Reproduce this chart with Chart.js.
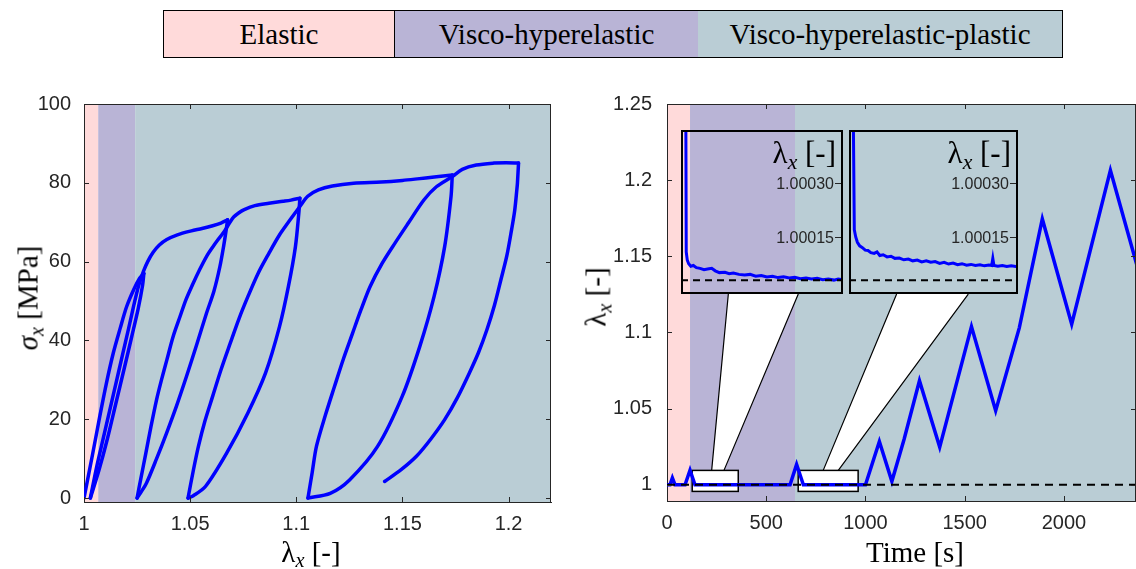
<!DOCTYPE html>
<html><head><meta charset="utf-8">
<script src="https://cdn.jsdelivr.net/npm/chart.js@4.4.0/dist/chart.umd.min.js"></script>
<style>
html,body{margin:0;padding:0;background:#fff;}
body{position:relative;width:1136px;height:569px;overflow:hidden;}
canvas{position:absolute;display:block;}
.band{position:absolute;left:163px;top:10px;width:900px;height:48px;box-sizing:border-box;border:1px solid #000;display:flex;font-family:'Liberation Serif',serif;font-size:29px;color:#000;}
.band div{height:100%;display:flex;align-items:center;justify-content:center;box-sizing:border-box;}
.lbl{position:absolute;font-family:'Liberation Serif',serif;color:#000;white-space:nowrap;line-height:1;transform:translate(-50%,-50%);}
.rot{transform:translate(-50%,-50%) rotate(-90deg);}
.lbl sub{font-size:0.7em;vertical-align:-0.28em;line-height:0;font-style:italic;}
.ititle{position:absolute;font-family:'Liberation Serif',serif;font-size:31px;color:#000;white-space:nowrap;line-height:1;text-align:right;}
.ititle sub{font-size:0.7em;vertical-align:-0.28em;line-height:0;font-style:italic;}
</style></head>
<body>
<div class="band" id="band"></div>
<canvas id="cL" width="560" height="569" style="left:0;top:0"></canvas>
<canvas id="cR" width="566" height="569" style="left:570px;top:0"></canvas>
<canvas id="cI1" style="left:0;top:0"></canvas>
<canvas id="cI2" style="left:0;top:0"></canvas>
<div class="lbl rot" style="left:28px;top:298px;font-size:29px"><i>σ</i><sub>x</sub> [MPa]</div>
<div class="lbl" style="left:311px;top:552px;font-size:29px">λ<sub>x</sub> [-]</div>
<div class="lbl rot" style="left:596px;top:297px;font-size:29px">λ<sub>x</sub> [-]</div>
<div class="lbl" style="left:915px;top:552px;font-size:29px">Time [s]</div>
<div class="ititle" id="t1">λ<sub>x</sub> [-]</div>
<div class="ititle" id="t2">λ<sub>x</sub> [-]</div>
<script>
// ---------- phases ----------
const phaseNames = ['Elastic', 'Visco-hyperelastic', 'Visco-hyperelastic-plastic'];
const phaseColors = ['#FFDADA', '#B9B4D6', '#BACDD5'];
const phaseStrainBounds = [1, 1.0067, 1.0241, 1.3];
const phaseTimeBounds = [0, 116, 645, 3000];

// ---------- left panel: stress vs stretch (one continuous path) ----------
const stretchPath = [
  1.000,1.0040,1.0075,1.0105,1.0138,1.0170,1.0201,1.0235,1.0262,1.0282,
  1.0276,1.0255,1.0225,1.019,1.015,1.011,1.007,1.003,
  1.006,1.009,1.012,1.015,1.018,1.021,1.0235,1.0258,1.028,1.030,1.0325,1.0355,1.039,1.044,1.0506,1.0556,1.0606,1.0645,1.0676,
  1.0671,1.0658,1.064,1.0612,1.0577,1.053,1.0483,1.0436,1.0389,1.0342,1.0295,1.0265,1.025,
  1.0268,1.029,1.0315,1.0342,1.0365,1.039,1.042,1.0452,1.048,1.051,1.0545,1.0577,1.0605,1.063,1.0652,1.0671,1.069,1.0705,1.073,1.0755,1.0805,1.0871,1.0938,1.0975,1.1017,
  1.1012,1.0996,1.0963,1.0921,1.0855,1.0772,1.0672,1.0573,1.0515,1.049,
  1.0515,1.0539,1.057,1.0606,1.0645,1.0689,1.073,1.0772,1.082,1.0871,1.092,1.0971,1.1017,1.1054,1.1104,1.117,1.127,1.140,1.150,1.157,1.165,1.1735,
  1.1729,1.1699,1.1649,1.1582,1.1499,1.1383,1.1251,1.116,1.1055,
  1.1075,1.1095,1.1137,1.118,1.1222,1.1265,1.1305,1.1348,1.1405,1.1465,1.1528,1.1602,1.166,1.1735,1.1782,1.1848,1.1931,1.1989,1.2047,
  1.2042,1.2039,1.2029,1.2014,1.1992,1.1964,1.1934,1.1898,1.1859,1.1815,1.1759,1.1699,1.1634,1.1566,1.1494,1.1416
];
const stressPath = [
  0,11,20.9,29,36.8,43,48.6,53,55.8,57,
  54,48,41,33,24,15,7,0,
  8,15,22,29,36,43,49,54,57.5,60,62.3,64.2,65.6,66.8,67.8,68.4,69.1,69.8,70.6,
  68.5,64,58.7,52.5,46.9,38.8,30.9,23.4,16.5,10,3.9,1.2,0,
  5,11,18,25,30,35,41,46,50.3,54,58,61.3,63.6,65.5,67,68.5,70.2,71.3,72.4,73.2,74.2,74.8,75.3,75.6,76.1,
  72.3,63.8,53.7,43.5,31.7,21.6,11.4,3,0.6,0,
  7,13.1,19.6,25.8,32.5,39.3,45.5,51.1,57,62.1,66.7,70.6,74,76.6,78.2,79.2,79.9,80.2,80.6,81.0,81.5,82,
  76.5,63.8,51.1,38.5,25.8,13.1,4.6,1.2,0,
  6.5,13.1,21,28.3,35.3,41.8,47.8,53.7,59.6,64.7,69.8,75.7,79,81.6,83.4,84.5,85,85.1,85,
  80,78.2,73,68,61.5,55.4,49,42.7,37,31.7,25.5,19.9,15,10.6,7.2,4.2
];
// indices where the path turns (load/unload reversals)
const reversalIdx = [0, 9, 17, 36, 49, 74, 84, 106, 115, 134, 150];
const stretchTicks = [1, 1.05, 1.1, 1.15, 1.2];
const stretchTickLabels = ['1', '1.05', '1.1', '1.15', '1.2'];
const stressTicks = [0, 20, 40, 60, 80, 100];
const stressTickLabels = ['0', '20', '40', '60', '80', '100'];

// ---------- right panel: stretch vs time ----------
const timeSeries = [0,15,27,40,91,116,141,620,653,687,1000,1070,1133,1195,1272,1374,1534,1656,1775,1891,2039,2234,2400];
const stretchSeries = [1,1,1.0045,1,1,1.0095,1,1,1.0133,1,1,1.0284,1.0022,1.0300,1.0683,1.0247,1.1038,1.0486,1.1030,1.1745,1.1054,1.2064,1.1289];
const refTime = [0, 2363];
const refStretch = [1, 1];
const timeTicks = [0, 500, 1000, 1500, 2000];
const timeTickLabels = ['0', '500', '1000', '1500', '2000'];
const stretchTicksR = [1, 1.05, 1.1, 1.15, 1.2, 1.25];
const stretchTickLabelsR = ['1', '1.05', '1.1', '1.15', '1.2', '1.25'];

// ---------- insets ----------
const inset1Time = [133.6,134.5,136,138,141,144.7,149,154.3,160,165,171,176,182,190,196,202,210,218,226,234,242,250,258,266,274,282,290,298,306,314,322,330,338,346,352,359];
const inset1Stretch = [1.0007,1.000108,1.000085,1.000075,1.000068,1.00007,1.000064,1.000062,1.000058,1.00006,1.000062,1.000055,1.00005,1.000051,1.000047,1.000049,1.000045,1.000043,1.000045,1.00004,1.000042,1.000038,1.00004,1.000036,1.000038,1.000035,1.000037,1.000033,1.000035,1.000032,1.000034,1.00003,1.000032,1.000029,1.000032,1.00003];
const inset2Time = [667.5,670.5,673,676,680,685,690,695,700,706,711,716,722,729,736,743,751,759,767,775,783,791,799,807,815,823,831,839,847,855,863,871,879,887,895,903,911,916,918,920,927,935,943,951,959,963];
const inset2Stretch = [1.0007,1.00017,1.00015,1.000135,1.000125,1.00012,1.000113,1.000112,1.000106,1.000104,1.000108,1.000098,1.0001,1.000094,1.000096,1.00009,1.000091,1.000086,1.000088,1.000083,1.000085,1.00008,1.000083,1.000079,1.000081,1.000076,1.000079,1.000074,1.000077,1.000072,1.000075,1.000071,1.000073,1.00007,1.000072,1.000069,1.000071,1.00007,1.00009,1.00007,1.000068,1.00007,1.000067,1.000069,1.000067,1.000068];
const insetRef = 1.0000284;
const insetTicks = [1.00015, 1.0003];
const insetTickLabels = ['1.00015', '1.00030'];

// ---------- layout (data-space annotations) ----------
const zoomBoxes = [{t0:127,t1:359,l0:0.9956,l1:1.0094},{t0:661,t1:963,l0:0.9956,l1:1.0094}];
const insetFrames = [{t0:70.5,t1:885,l0:1.1252,l1:1.2328},{t0:915,t1:1767,l0:1.1252,l1:1.2328}];
const cones = [{b0:225,b1:287,u0:309,u1:661.5},{b0:787,b1:863,u0:1157,u1:1518}];

const AX = '#262626';
const BLUE = '#0000FF';
const TICKFONT = {family:"'Liberation Sans', Arial, sans-serif", size:20};

// band
const band = document.getElementById('band');
const bandWidths = [231, 303, 364];
phaseNames.forEach((n,i)=>{
  const d = document.createElement('div');
  d.textContent = n; d.style.background = phaseColors[i]; d.style.width = bandWidths[i]+'px';
  if (i===0) d.style.borderRight = '1px solid #000';
  band.appendChild(d);
});

const phasePlugin = {
  id:'phases',
  beforeDraw(chart, args, o){
    const {ctx, chartArea:a, scales:{x}} = chart;
    ctx.save();
    for (let i=0;i<phaseColors.length;i++){
      const x0 = Math.max(a.left, x.getPixelForValue(o.bounds[i]));
      const x1 = Math.min(a.right, x.getPixelForValue(o.bounds[i+1]));
      if (x1<=x0) continue;
      ctx.fillStyle = phaseColors[i];
      ctx.fillRect(x0, a.top, x1-x0, a.bottom-a.top);
    }
    ctx.restore();
  },
  afterDatasetsDraw(chart){
    const {ctx, chartArea:a, scales:{x,y}} = chart;
    const L = 5;
    ctx.save();
    ctx.strokeStyle = AX; ctx.lineWidth = 1;
    ctx.beginPath();
    ctx.moveTo(a.left, a.top+0.5); ctx.lineTo(a.right, a.top+0.5);
    ctx.moveTo(a.right-0.5, a.top); ctx.lineTo(a.right-0.5, a.bottom);
    x.ticks.forEach(t=>{ const p=Math.round(x.getPixelForValue(t.value))+0.5;
      ctx.moveTo(p,a.bottom); ctx.lineTo(p,a.bottom-L); ctx.moveTo(p,a.top); ctx.lineTo(p,a.top+L); });
    y.ticks.forEach(t=>{ const p=Math.round(y.getPixelForValue(t.value))+0.5;
      ctx.moveTo(a.left,p); ctx.lineTo(a.left+L,p); ctx.moveTo(a.right,p); ctx.lineTo(a.right-L,p); });
    ctx.stroke();
    ctx.restore();
  }
};

const zoomPlugin = {
  id:'zoomMarks',
  beforeDatasetsDraw(chart){
    const {ctx, chartArea:a, scales:{x,y}} = chart;
    ctx.save();
    ctx.beginPath(); ctx.rect(a.left,a.top,a.right-a.left,a.bottom-a.top); ctx.clip();
    cones.forEach((c,i)=>{
      const yb = y.getPixelForValue(zoomBoxes[i].l1), yt = y.getPixelForValue(insetFrames[i].l0);
      const p = [[x.getPixelForValue(c.b0),yb],[x.getPixelForValue(c.b1),yb],[x.getPixelForValue(c.u1),yt],[x.getPixelForValue(c.u0),yt]];
      ctx.fillStyle='#fff'; ctx.beginPath(); ctx.moveTo(...p[0]); p.slice(1).forEach(q=>ctx.lineTo(...q)); ctx.closePath(); ctx.fill();
      ctx.strokeStyle='#000'; ctx.lineWidth=1.2; ctx.beginPath();
      ctx.moveTo(...p[0]); ctx.lineTo(...p[3]); ctx.moveTo(...p[1]); ctx.lineTo(...p[2]); ctx.stroke();
    });
    zoomBoxes.forEach(b=>{
      const x0=x.getPixelForValue(b.t0), x1=x.getPixelForValue(b.t1), y0=y.getPixelForValue(b.l1), y1=y.getPixelForValue(b.l0);
      ctx.fillStyle='#fff'; ctx.fillRect(x0,y0,x1-x0,y1-y0);
      ctx.strokeStyle='#000'; ctx.lineWidth=1.5; ctx.strokeRect(x0,y0,x1-x0,y1-y0);
    });
    ctx.restore();
  }
};

function pts(xs, ys){ return xs.map((v,i)=>({x:v, y:ys[i]})); }

const baseOpts = {
  responsive:false, animation:false, devicePixelRatio:1,
  plugins:{legend:{display:false}, tooltip:{enabled:false}},
};

// left chart: one dataset per loading / unloading branch
const branchSets = [];
for (let k=0;k<reversalIdx.length-1;k++){
  const s = reversalIdx[k], e = reversalIdx[k+1];
  branchSets.push({data:pts(stretchPath.slice(s,e+1), stressPath.slice(s,e+1)), showLine:true,
    borderColor:BLUE, borderWidth:3.5, pointRadius:0, tension:0.3, fill:false, borderCapStyle:'round', borderJoinStyle:'round'});
}
new Chart(document.getElementById('cL'), {
  type:'scatter',
  data:{datasets:branchSets},
  options:{...baseOpts,
    layout:{padding:{top:104,right:9,left:0,bottom:0}},
    plugins:{...baseOpts.plugins, phases:{bounds:phaseStrainBounds}},
    scales:{
      x:{type:'linear', min:1, max:1.22, afterFit:s=>{s.height=67;},
        afterBuildTicks:s=>{s.ticks=stretchTicks.map(v=>({value:v}));},
        grid:{display:false, drawTicks:false}, border:{display:true,color:AX,width:1},
        ticks:{font:TICKFONT, color:AX, padding:10, maxRotation:0, callback:(v,i)=>stretchTickLabels[i]}},
      y:{type:'linear', min:-1, max:100, afterFit:s=>{s.width=84;},
        afterBuildTicks:s=>{s.ticks=stressTicks.map(v=>({value:v}));},
        grid:{display:false, drawTicks:false}, border:{display:true,color:AX,width:1},
        ticks:{font:TICKFONT, color:AX, padding:13, callback:(v,i)=>stressTickLabels[i]}}
    }},
  plugins:[phasePlugin]
});

// right chart
const chartR = new Chart(document.getElementById('cR'), {
  type:'scatter',
  data:{datasets:[
    {data:pts(refTime, refStretch), showLine:true, borderColor:'#000', borderWidth:2, borderDash:[8,6], pointRadius:0, order:0},
    {data:pts(timeSeries, stretchSeries), showLine:true, borderColor:BLUE, borderWidth:3.5, pointRadius:0, tension:0, order:1, borderJoinStyle:'miter'}
  ]},
  options:{...baseOpts,
    layout:{padding:{top:104,right:0,left:0,bottom:0}},
    plugins:{...baseOpts.plugins, phases:{bounds:phaseTimeBounds}},
    scales:{
      x:{type:'linear', min:0, max:2363, afterFit:s=>{s.height=68;},
        afterBuildTicks:s=>{s.ticks=timeTicks.map(v=>({value:v}));},
        grid:{display:false, drawTicks:false}, border:{display:true,color:AX,width:1},
        ticks:{font:TICKFONT, color:AX, padding:10, maxRotation:0, callback:(v,i)=>timeTickLabels[i]}},
      y:{type:'linear', min:0.9893, max:1.25, afterFit:s=>{s.width=97;},
        afterBuildTicks:s=>{s.ticks=stretchTicksR.map(v=>({value:v}));},
        grid:{display:false, drawTicks:false}, border:{display:true,color:AX,width:1},
        ticks:{font:TICKFONT, color:AX, padding:15, callback:(v,i)=>stretchTickLabelsR[i]}}
    }},
  plugins:[phasePlugin, zoomPlugin]
});

// insets
const insetPlugin = {
  id:'insetFrame',
  afterDatasetsDraw(chart){
    const {ctx, chartArea:a, scales:{y}} = chart;
    ctx.save();
    ctx.strokeStyle = AX; ctx.lineWidth = 1; ctx.fillStyle = AX;
    ctx.font = "16px 'Liberation Sans', Arial, sans-serif";
    ctx.textAlign='right'; ctx.textBaseline='middle';
    insetTicks.forEach((v,i)=>{
      const p = Math.round(y.getPixelForValue(v))+0.5;
      ctx.beginPath(); ctx.moveTo(a.right,p); ctx.lineTo(a.right-8,p); ctx.stroke();
      ctx.fillText(insetTickLabels[i], a.right-9, p+1);
    });
    ctx.strokeStyle = '#000'; ctx.lineWidth = 2;
    ctx.strokeRect(a.left+1, a.top+1, a.right-a.left-2, a.bottom-a.top-2);
    ctx.restore();
  }
};
const xsR = chartR.scales.x, ysR = chartR.scales.y, offL = 570;
[[ 'cI1', inset1Time, inset1Stretch, 't1' ], [ 'cI2', inset2Time, inset2Stretch, 't2' ]].forEach((d,i)=>{
  const f = insetFrames[i];
  const left = Math.round(offL + xsR.getPixelForValue(f.t0));
  const right = Math.round(offL + xsR.getPixelForValue(f.t1));
  const top = Math.round(ysR.getPixelForValue(f.l1));
  const bottom = Math.round(ysR.getPixelForValue(f.l0));
  const cv = document.getElementById(d[0]);
  cv.width = right-left; cv.height = bottom-top;
  cv.style.left = left+'px'; cv.style.top = top+'px';
  const t = document.getElementById(d[3]);
  t.style.right = (1136-right+7)+'px'; t.style.top = (top+7)+'px';
  const tb = zoomBoxes[i];
  new Chart(cv, {
    type:'scatter',
    data:{datasets:[
      {data:[{x:tb.t0,y:insetRef},{x:tb.t1,y:insetRef}], showLine:true, borderColor:'#000', borderWidth:2, borderDash:[7,5], pointRadius:0, order:0},
      {data:pts(d[1], d[2]), showLine:true, borderColor:BLUE, borderWidth:3, pointRadius:0, tension:0, order:1}
    ]},
    options:{...baseOpts, layout:{padding:0},
      scales:{x:{type:'linear', display:false, min:tb.t0, max:tb.t1}, y:{type:'linear', display:false, min:0.99999, max:1.00045}}},
    plugins:[insetPlugin]
  });
});
</script>
</body></html>
